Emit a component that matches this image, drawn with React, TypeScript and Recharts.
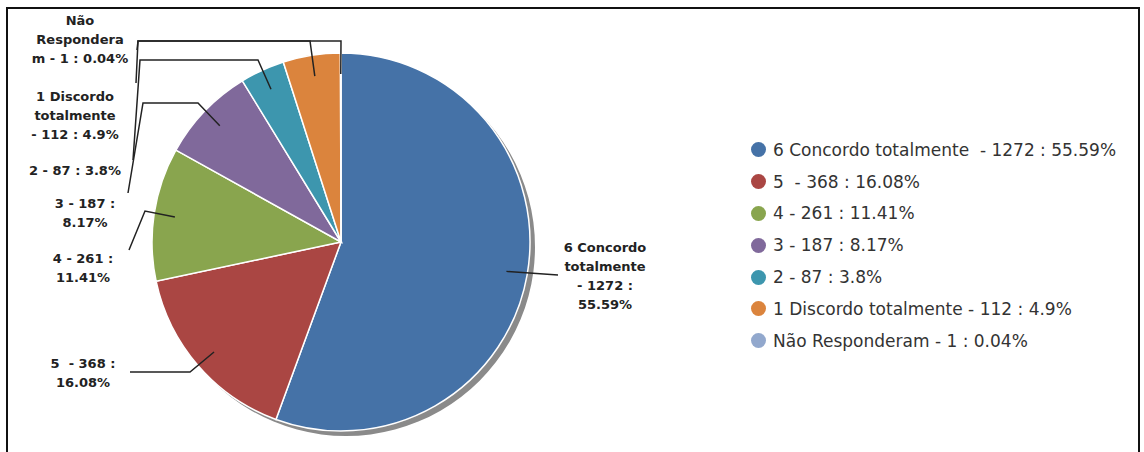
import { PieChart, Pie, Cell } from "recharts";

const CATEGORIES = [
  "6 Concordo totalmente ",
  "5 ",
  "4",
  "3",
  "2",
  "1 Discordo totalmente",
  "Não Responderam",
];
const COUNTS = [1272, 368, 261, 187, 87, 112, 1];
const PERCENTS = ["55.59", "16.08", "11.41", "8.17", "3.8", "4.9", "0.04"];

// slice labels as they are wrapped in the picture
const LABEL_LINES = [
  ["6 Concordo", "totalmente", "- 1272 :", "55.59%"],
  ["5  - 368 :", "16.08%"],
  ["4 - 261 :", "11.41%"],
  ["3 - 187 :", "8.17%"],
  ["2 - 87 : 3.8%"],
  ["1 Discordo", "totalmente", "- 112 : 4.9%"],
  ["Não", "Respondera", "m - 1 : 0.04%"],
];

const COLORS = ["#4572a7", "#aa4643", "#89a54e", "#80699b", "#3d96ae", "#db843d", "#92a8cd"];

// leader line bends + label anchor, in chart pixels
const LABEL_LAYOUT = [
  { path: [[558, 275]], tx: 605, ty: 247 },
  { path: [[190, 372], [130, 372]], tx: 83, ty: 363 },
  { path: [[145, 211], [129, 250]], tx: 83, ty: 258 },
  { path: [[198, 103], [143, 103], [128, 193]], tx: 85, ty: 203 },
  { path: [[258, 60], [140, 60], [133, 160]], tx: 75, ty: 170 },
  { path: [[310, 41], [138, 41], [136, 83]], tx: 75, ty: 96 },
  { path: [[341, 41], [138, 41], [137, 50]], tx: 80, ty: 20 },
];

const data = CATEGORIES.map((c, i) => ({
  name: `${c} - ${COUNTS[i]} : ${PERCENTS[i]}%`,
  value: COUNTS[i],
}));

const RADIAN = Math.PI / 180;

function renderLabel(props: any) {
  const { cx, cy, midAngle, outerRadius, index } = props;
  const r = outerRadius - 21;
  const sx = cx + r * Math.cos(-midAngle * RADIAN);
  const sy = cy + r * Math.sin(-midAngle * RADIAN);
  const lay = LABEL_LAYOUT[index];
  const pts = [[sx, sy], ...lay.path].map((p) => p.join(",")).join(" ");
  return (
    <g key={`lbl-${index}`}>
      <polyline points={pts} fill="none" stroke="#222" strokeWidth={1.5} />
      <text
        x={lay.tx}
        y={lay.ty}
        textAnchor="middle"
        fontFamily="DejaVu Sans"
        fontWeight="bold"
        fontSize={13}
        fill="#222"
        style={{ whiteSpace: "pre" }}
      >
        {LABEL_LINES[index].map((line, j) => (
          <tspan key={j} x={lay.tx} y={lay.ty + j * 19} dominantBaseline="central">
            {line}
          </tspan>
        ))}
      </text>
    </g>
  );
}

function LegendList() {
  return (
    <div style={{ fontFamily: "DejaVu Sans", fontSize: 17, color: "#333" }}>
      {data.map((d, i) => (
        <div
          key={d.name}
          style={{ display: "flex", alignItems: "center", height: 31.8, whiteSpace: "pre" }}
        >
          <span
            style={{
              width: 15,
              height: 15,
              borderRadius: "50%",
              background: COLORS[i],
              display: "inline-block",
              marginRight: 7,
            }}
          />
          <span>{d.name}</span>
        </div>
      ))}
    </div>
  );
}

export default function App() {
  return (
    <div
      style={{
        position: "fixed",
        left: 0,
        top: 0,
        width: 1144,
        height: 452,
        background: "#fff",
        overflow: "hidden",
      }}
    >
      <div
        style={{
          position: "absolute",
          left: 6,
          top: 7,
          width: 1130,
          height: 470,
          border: "2px solid #111",
        }}
      />
      <div style={{ position: "absolute", left: 0, top: 0 }}>
        <PieChart width={1144} height={452} margin={{ top: 0, right: 0, bottom: 0, left: 0 }}>
          <Pie
            data={[{ value: 1 }]}
            dataKey="value"
            cx={346}
            cy={247}
            outerRadius={189}
            startAngle={90}
            endAngle={-270}
            fill="#8a8a8a"
            stroke="none"
            isAnimationActive={false}
          />
          <Pie
            data={data}
            dataKey="value"
            nameKey="name"
            cx={341}
            cy={242}
            outerRadius={189}
            startAngle={90}
            endAngle={-270}
            stroke="#fff"
            strokeWidth={1.5}
            label={renderLabel}
            labelLine={false}
            isAnimationActive={false}
          >
            {data.map((d, i) => (
              <Cell key={d.name} fill={COLORS[i]} />
            ))}
          </Pie>
        </PieChart>
      </div>
      <div style={{ position: "absolute", left: 751, top: 134 }}>
        <LegendList />
      </div>
    </div>
  );
}
